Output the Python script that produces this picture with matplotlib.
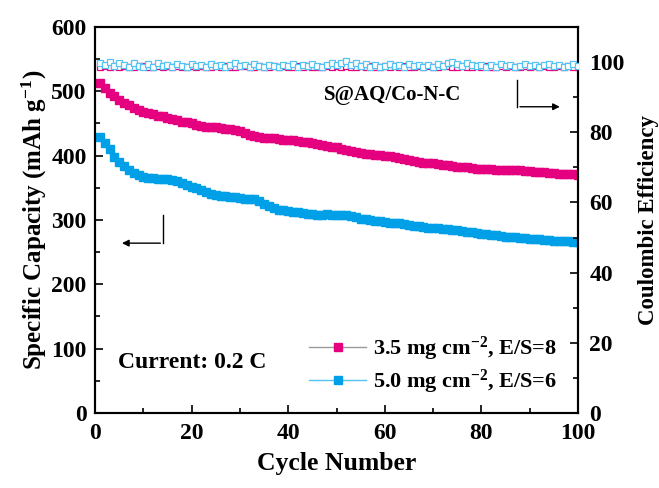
import numpy as np
import matplotlib.pyplot as plt
from matplotlib.ticker import MultipleLocator

plt.rcParams['font.family'] = ['Liberation Serif', 'DejaVu Serif']
plt.rcParams['font.weight'] = 'bold'
plt.rcParams['mathtext.fontset'] = 'custom'
plt.rcParams['mathtext.rm'] = 'Liberation Serif:bold'
plt.rcParams['mathtext.it'] = 'Liberation Serif:bold'
plt.rcParams['mathtext.bf'] = 'Liberation Serif:bold'

cycles = np.arange(1, 101)

# specific capacity (mAh g-1)
cap_35 = [513, 505, 498, 492, 486, 482, 478, 474, 471, 468,
          466, 464, 462, 461, 459, 457, 455, 453, 452, 450,
          448, 446, 445, 445, 444, 443, 442, 441, 440, 438,
          435, 432, 430, 429, 428, 427, 427, 426, 425, 425,
          424, 423, 422, 421, 420, 418, 416, 415, 414, 413,
          411, 409, 407, 405, 404, 403, 402, 401, 401, 400,
          399, 398, 397, 395, 393, 391, 390, 389, 389, 388,
          387, 386, 385, 384, 383, 382, 382, 381, 380, 380,
          379, 379, 378, 378, 378, 377, 378, 377, 376, 376,
          375, 375, 374, 373, 373, 372, 372, 371, 371, 370]
cap_50 = [429, 420, 410, 398, 390, 384, 378, 373, 370, 367,
          366, 365, 364, 364, 363, 362, 360, 357, 354, 351,
          349, 347, 344, 341, 339, 338, 337, 336, 335, 334,
          333, 333, 332, 329, 325, 321, 318, 316, 315, 314,
          313, 312, 311, 310, 309, 308, 308, 309, 308, 307,
          307, 308, 306, 304, 302, 301, 300, 299, 298, 297,
          296, 296, 295, 294, 292, 291, 290, 289, 288, 288,
          287, 286, 286, 285, 284, 283, 282, 281, 280, 279,
          278, 277, 276, 275, 274, 274, 273, 272, 272, 271,
          270, 270, 269, 269, 268, 268, 267, 267, 266, 266]

# coulombic efficiency (%)
ce_35 = [98.6, 98.9, 98.7, 98.8, 98.5, 98.9, 98.7, 98.6, 98.8, 98.9,
         98.7, 98.5, 98.8, 98.6, 98.9, 98.7, 98.8, 98.6, 98.7, 98.9,
         98.6, 98.8, 98.7, 98.5, 98.9, 98.7, 98.8, 98.6, 98.7, 98.8,
         98.9, 98.6, 98.7, 98.8, 98.5, 98.7, 98.9, 98.6, 98.8, 98.7,
         98.6, 98.8, 98.7, 98.9, 98.6, 98.7, 98.5, 98.8, 98.7, 98.9,
         98.6, 98.8, 98.7, 98.6, 98.9, 98.7, 98.8, 98.5, 98.7, 98.8,
         98.6, 98.9, 98.7, 98.8, 98.6, 98.7, 98.9, 98.5, 98.8, 98.7,
         98.6, 98.8, 98.9, 98.7, 98.6, 98.8, 98.7, 98.5, 98.9, 98.7,
         98.8, 98.6, 98.7, 98.9, 98.6, 98.8, 98.7, 98.5, 98.8, 98.7,
         98.9, 98.6, 98.8, 98.7, 98.6, 98.9, 98.7, 98.8, 98.6, 98.7]
ce_50 = [99.6, 99.1, 100.0, 98.9, 99.7, 99.2, 98.6, 99.8, 99.0, 98.5,
         99.4, 98.7, 99.6, 98.9, 99.3, 98.6, 99.5, 99.0, 98.7, 99.4,
         98.8, 99.2, 98.6, 99.5, 98.9, 99.3, 98.7, 99.1, 99.6, 98.8,
         99.2, 98.6, 99.4, 99.0, 98.7, 99.3, 98.9, 98.5, 99.2, 98.8,
         99.4, 98.6, 99.1, 98.9, 99.5, 99.0, 98.7, 99.3, 99.8, 99.1,
         99.6, 100.2, 99.3, 99.8, 98.9, 99.4, 98.7, 99.2, 98.6, 99.0,
         99.4, 98.8, 99.2, 98.6, 99.5, 98.9, 99.3, 98.7, 99.1, 98.6,
         99.4, 98.9, 99.6, 100.1, 99.5, 99.0, 99.7, 99.2, 98.8, 99.3,
         98.7, 99.1, 98.6, 99.4, 98.9, 99.2, 98.6, 99.0, 99.4, 98.8,
         99.2, 98.7, 99.1, 99.5, 98.9, 99.3, 98.7, 99.0, 99.4, 98.8]

pink = '#E5007F'
blue = '#00A0E9'

fig = plt.figure(figsize=(6.59, 4.88), dpi=100)
ax = fig.add_axes([0.1442, 0.1537, 0.733, 0.791])
ax2 = ax.twinx()

ax2.plot(cycles, ce_35, color=pink, lw=0.8, marker='s', ms=4.8, mfc='white',
         mec=pink, mew=0.9, zorder=2)
ax2.plot(cycles, ce_50, color='#7fd0f5', lw=0.8, marker='s', ms=4.8, mfc='white',
         mec='#55c3f2', mew=0.9, zorder=3)

ax.plot(cycles, cap_35, color='#999999', lw=1, marker='s', ms=5.5, mfc=pink,
        mec=pink, label=r'3.5 mg cm$^{-2}$, E/S=8')
ax.plot(cycles, cap_50, color='#55c3f2', lw=1, marker='s', ms=5.5, mfc=blue,
        mec=blue, label=r'5.0 mg cm$^{-2}$, E/S=6')

ax.set_xlim(0, 100)
ax.set_ylim(0, 600)
ax2.set_ylim(0, 110)

ax.xaxis.set_major_locator(MultipleLocator(20))
ax.xaxis.set_minor_locator(MultipleLocator(10))
ax.yaxis.set_major_locator(MultipleLocator(100))
ax.yaxis.set_minor_locator(MultipleLocator(50))
ax2.yaxis.set_major_locator(MultipleLocator(20))
ax2.yaxis.set_minor_locator(MultipleLocator(10))

for a in (ax, ax2):
    a.tick_params(which='both', direction='in', labelsize=17, width=1.2)
    a.tick_params(which='major', length=6)
    a.tick_params(which='minor', length=3.5)
    for s in a.spines.values():
        s.set_linewidth(1.5)
ax.tick_params(axis='x', pad=7)
ax.tick_params(axis='y', pad=6)
ax2.tick_params(axis='y', pad=8)

ax.set_xlabel('Cycle Number', fontsize=18.5, fontweight='bold', labelpad=6)
ax.set_ylabel(r'Specific Capacity (mAh g$^{-1}$)', fontsize=18, fontweight='bold', labelpad=2)
ax2.set_ylabel('Coulombic Efficiency', fontsize=16.5, fontweight='bold', labelpad=10)

ax.text(61.5, 494, 'S@AQ/Co-N-C', fontsize=15, fontweight='bold', ha='center', va='center')
ax.text(4.8, 78, 'Current: 0.2 C', fontsize=17, fontweight='bold', ha='left', va='center')

# direction arrows
ax.plot([14.1, 14.1], [308, 264], color='black', lw=1)
ax.annotate('', xy=(5.0, 264), xytext=(14.1, 264),
            arrowprops=dict(arrowstyle='-|>', color='black', lw=1, mutation_scale=10))
ax.plot([87.4, 87.4], [518, 476], color='black', lw=1)
ax.annotate('', xy=(96.8, 476), xytext=(87.4, 476),
            arrowprops=dict(arrowstyle='-|>', color='black', lw=1, mutation_scale=10))

ax.legend(loc='lower right', bbox_to_anchor=(0.975, 0.02), frameon=False,
          fontsize=16, handlelength=2.6, handletextpad=0.3, labelspacing=0.25,
          borderaxespad=0, numpoints=1)

fig.savefig('out.png', dpi=100)
